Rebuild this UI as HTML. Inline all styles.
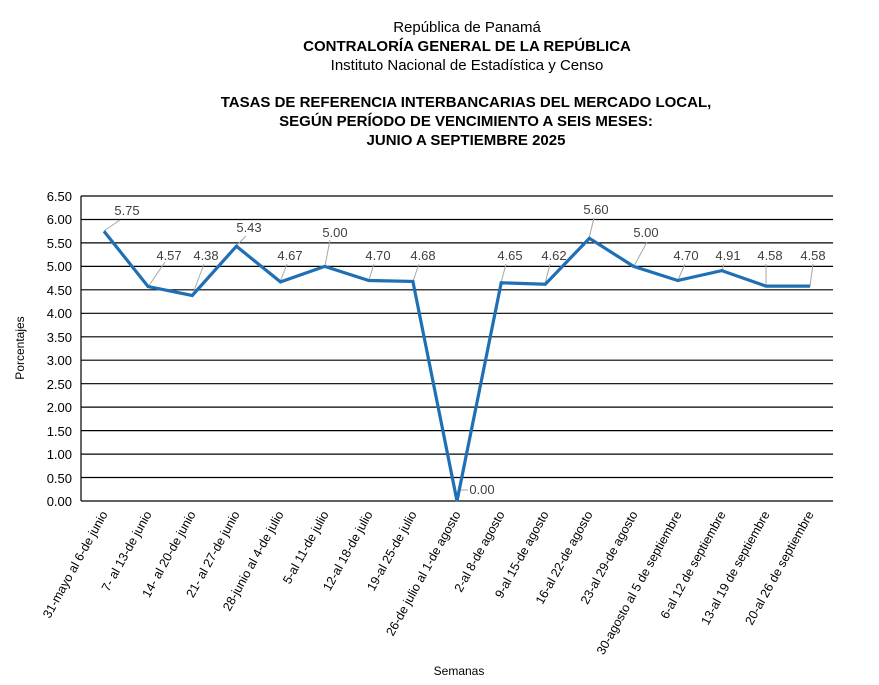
<!DOCTYPE html>
<html><head><meta charset="utf-8"><style>
html,body{margin:0;padding:0;background:#fff;}
svg{display:block;font-family:"Liberation Sans",Arial,sans-serif;}
</style></head><body>
<svg width="879" height="685" viewBox="0 0 879 685" xmlns="http://www.w3.org/2000/svg">
<g text-anchor="middle" fill="#000">
<text x="467" y="32" font-size="15">República de Panamá</text>
<text x="467" y="51" font-size="15" font-weight="bold">CONTRALORÍA GENERAL DE LA REPÚBLICA</text>
<text x="467" y="70" font-size="15">Instituto Nacional de Estadística y Censo</text>
<text x="466" y="107" font-size="15" font-weight="bold">TASAS DE REFERENCIA INTERBANCARIAS DEL MERCADO LOCAL,</text>
<text x="466" y="126" font-size="15" font-weight="bold">SEGÚN PERÍODO DE VENCIMIENTO A SEIS MESES:</text>
<text x="466" y="145" font-size="15" font-weight="bold">JUNIO A SEPTIEMBRE 2025</text>
</g>
<g stroke="#000" stroke-width="1.2">
<line x1="81" y1="196" x2="833" y2="196"/><line x1="81" y1="219.5" x2="833" y2="219.5"/>
<line x1="81" y1="242.9" x2="833" y2="242.9"/><line x1="81" y1="266.4" x2="833" y2="266.4"/>
<line x1="81" y1="289.8" x2="833" y2="289.8"/><line x1="81" y1="313.3" x2="833" y2="313.3"/>
<line x1="81" y1="336.8" x2="833" y2="336.8"/><line x1="81" y1="360.2" x2="833" y2="360.2"/>
<line x1="81" y1="383.7" x2="833" y2="383.7"/><line x1="81" y1="407.1" x2="833" y2="407.1"/>
<line x1="81" y1="430.6" x2="833" y2="430.6"/><line x1="81" y1="454.1" x2="833" y2="454.1"/>
<line x1="81" y1="477.5" x2="833" y2="477.5"/><line x1="81" y1="501" x2="833" y2="501"/>
<line x1="81" y1="196" x2="81" y2="501"/>
</g>
<g font-size="13" text-anchor="end" fill="#000">
<text x="72" y="201">6.50</text><text x="72" y="224">6.00</text><text x="72" y="248">5.50</text>
<text x="72" y="271">5.00</text><text x="72" y="295">4.50</text><text x="72" y="318">4.00</text>
<text x="72" y="342">3.50</text><text x="72" y="365">3.00</text><text x="72" y="389">2.50</text>
<text x="72" y="412">2.00</text><text x="72" y="436">1.50</text><text x="72" y="459">1.00</text>
<text x="72" y="483">0.50</text><text x="72" y="506">0.00</text>
</g>
<text transform="translate(24,348) rotate(-90)" font-size="12" text-anchor="middle">Porcentajes</text>
<text x="459" y="675" font-size="12" text-anchor="middle">Semanas</text>
<g stroke="#a6a6a6" stroke-width="1">
<line x1="104" y1="231" x2="120" y2="220"/><line x1="148" y1="287" x2="165" y2="262"/>
<line x1="192" y1="296" x2="204" y2="264"/><line x1="236" y1="246" x2="246" y2="236"/>
<line x1="280" y1="282" x2="287" y2="264"/><line x1="325" y1="266" x2="330" y2="240"/>
<line x1="369" y1="280" x2="374" y2="264"/><line x1="413" y1="281" x2="419" y2="264"/>
<line x1="459" y1="490" x2="468" y2="490"/><line x1="501" y1="283" x2="506" y2="264"/>
<line x1="545" y1="284" x2="550" y2="264"/><line x1="589" y1="238" x2="594" y2="218"/>
<line x1="634" y1="266" x2="647" y2="242"/><line x1="678" y1="280" x2="685" y2="264"/>
<line x1="722" y1="271" x2="724" y2="264"/><line x1="766" y1="286" x2="766" y2="264"/>
<line x1="810" y1="286" x2="813" y2="264"/>
</g>
<polyline fill="none" stroke="#1f6fb5" stroke-width="3.2" stroke-linejoin="miter" points="104,231.2 148.1,286.6 192.3,295.5 236.4,246.2 280.5,281.9 324.7,266.4 368.8,280.5 412.9,281.4 457,501 501.2,282.8 545.3,284.2 589.4,238.3 633.6,266.4 677.7,280.5 721.8,270.6 765.9,286.1 810.1,286.1"/>
<g font-size="13" fill="#404040" text-anchor="middle">
<text x="127" y="215">5.75</text><text x="169" y="260">4.57</text><text x="206" y="260">4.38</text>
<text x="249" y="232">5.43</text><text x="290" y="260">4.67</text><text x="335" y="237">5.00</text>
<text x="378" y="260">4.70</text><text x="423" y="260">4.68</text><text x="482" y="494">0.00</text>
<text x="510" y="260">4.65</text><text x="554" y="260">4.62</text><text x="596" y="214">5.60</text>
<text x="646" y="237">5.00</text><text x="686" y="260">4.70</text><text x="728" y="260">4.91</text>
<text x="770" y="260">4.58</text><text x="813" y="260">4.58</text>
</g>
<g font-size="12.5" text-anchor="end" fill="#000">
<text transform="translate(108,514) rotate(-61)">31-mayo al 6-de junio</text>
<text transform="translate(152,514) rotate(-61)">7- al 13-de junio</text>
<text transform="translate(196,514) rotate(-61)">14- al 20-de junio</text>
<text transform="translate(240,514) rotate(-61)">21- al 27-de junio</text>
<text transform="translate(284,514) rotate(-61)">28-junio al 4-de julio</text>
<text transform="translate(329,514) rotate(-61)">5-al 11-de julio</text>
<text transform="translate(373,514) rotate(-61)">12-al 18-de julio</text>
<text transform="translate(417,514) rotate(-61)">19-al 25-de julio</text>
<text transform="translate(461,514) rotate(-61)">26-de julio al 1-de agosto</text>
<text transform="translate(505,514) rotate(-61)">2-al 8-de agosto</text>
<text transform="translate(549,514) rotate(-61)">9-al 15-de agosto</text>
<text transform="translate(593,514) rotate(-61)">16-al 22-de agosto</text>
<text transform="translate(638,514) rotate(-61)">23-al 29-de agosto</text>
<text transform="translate(682,514) rotate(-61)">30-agosto al 5 de septiembre</text>
<text transform="translate(726,514) rotate(-61)">6-al 12 de septiembre</text>
<text transform="translate(770,514) rotate(-61)">13-al 19 de septiembre</text>
<text transform="translate(814,514) rotate(-61)">20-al 26 de septiembre</text>
</g>
</svg>
</body></html>
